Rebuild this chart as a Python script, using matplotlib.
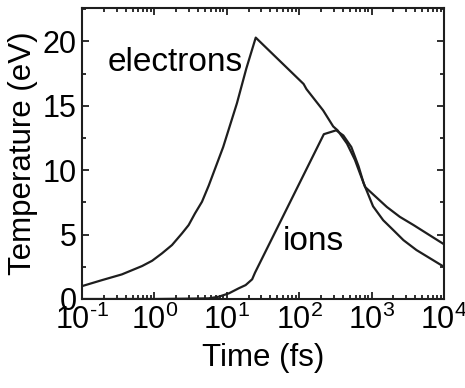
import numpy as np
import matplotlib
matplotlib.use("Agg")
import matplotlib.pyplot as plt
from matplotlib.ticker import LogLocator, MultipleLocator, FuncFormatter, NullFormatter

plt.rcParams['font.family'] = ['Liberation Sans', 'DejaVu Sans']
plt.rcParams['mathtext.fontset'] = 'custom'
plt.rcParams['mathtext.rm'] = 'Liberation Sans'
plt.rcParams['mathtext.it'] = 'Liberation Sans'
plt.rcParams['mathtext.default'] = 'regular'
plt.rcParams['axes.unicode_minus'] = False

# electrons temperature (time in fs, T in eV)
elec_t = [0.1, 0.19, 0.355, 0.676, 0.93, 1.27, 1.75, 2.4, 2.97, 3.63, 4.54, 5.62,
          8.91, 13.8, 18.6, 25.1, 115.0, 126.0, 214.0, 295.0, 339.0, 457.0, 589.0,
          692.0, 813.0, 1622.0, 2455.0, 3802.0, 10000.0]
elec_T = [1.0, 1.47, 1.91, 2.56, 2.97, 3.54, 4.19, 5.09, 5.74, 6.64, 7.55, 8.8,
          11.8, 15.2, 17.9, 20.3, 16.7, 16.3, 14.65, 13.4, 13.1, 12.07, 10.8,
          9.74, 8.7, 7.15, 6.38, 5.74, 4.25]

# ions temperature
ion_t = [0.1, 1.0, 3.16, 5.62, 7.76, 10.7, 14.6, 18.2, 22.4, 24.5, 219.0, 324.0,
         407.0, 525.0, 661.0, 776.0, 1047.0, 1445.0, 1995.0, 2754.0, 4169.0, 10000.0]
ion_T = [0.0, 0.0, 0.03, 0.05, 0.18, 0.44, 0.83, 1.08, 1.53, 2.04, 12.8, 13.1,
         12.7, 11.8, 10.3, 9.0, 7.2, 6.12, 5.35, 4.57, 3.8, 2.5]

def fmt_pow(v, pos):
    e = int(round(np.log10(v)))
    s = str(e).replace('-', r'\text{-}')
    return r'$10^{%s}$' % s

fig = plt.figure(figsize=(4.65, 3.88), dpi=100)
ax = fig.add_axes([82/465, 1-299/388, (444-82)/465, (299-8)/388])

ax.plot(elec_t, elec_T, color='#1e1e1e', lw=1.6, solid_joinstyle='round')
ax.plot(ion_t, ion_T, color='#1e1e1e', lw=1.6, solid_joinstyle='round')

ax.set_xscale('log')
ax.set_xlim(0.1, 1e4)
ax.set_ylim(0, 22.6)

ax.xaxis.set_major_locator(LogLocator(base=10, numticks=10))
ax.xaxis.set_minor_locator(LogLocator(base=10, subs=np.arange(2, 10), numticks=20))
ax.xaxis.set_major_formatter(FuncFormatter(fmt_pow))
ax.xaxis.set_minor_formatter(NullFormatter())
ax.yaxis.set_major_locator(MultipleLocator(5))
ax.yaxis.set_minor_locator(MultipleLocator(2.5))

ax.tick_params(which='both', direction='in', top=True, right=True, width=1.3, colors='#1e1e1e')
ax.tick_params(which='major', length=5, labelsize=22, pad=4, labelcolor='black')
ax.tick_params(which='minor', length=3)
for s in ax.spines.values():
    s.set_linewidth(1.5)
    s.set_color('#1e1e1e')

ax.set_xlabel('Time (fs)', fontsize=22.5, labelpad=5)
ax.set_ylabel('Temperature (eV)', fontsize=22.5, labelpad=3)

ax.text(0.224, 17.7, 'electrons', fontsize=24, color='black')
ax.text(59.7, 3.8, 'ions', fontsize=24, color='black')

fig.savefig('out.png', dpi=100)
